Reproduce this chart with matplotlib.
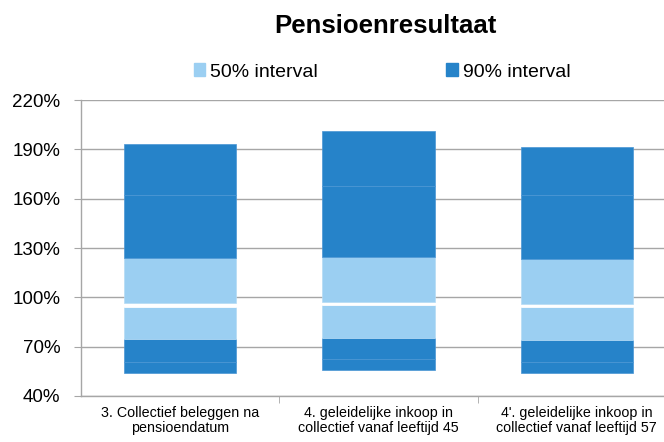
import numpy as np
import matplotlib.pyplot as plt
from matplotlib import font_manager

plt.rcParams['font.family'] = ['Liberation Sans', 'DejaVu Sans']

# narrow font for the category labels, if present
names = {f.name for f in font_manager.fontManager.ttflist}
if 'Liberation Sans Narrow' in names:
    cat_font, cat_size = ['Liberation Sans Narrow', 'DejaVu Sans'], 11.5
else:
    cat_font, cat_size = ['Liberation Sans', 'DejaVu Sans'], 10.3

categories = ["3. Collectief beleggen na\npensioendatum",
              "4. geleidelijke inkoop in\ncollectief vanaf leeftijd 45",
              "4'. geleidelijke inkoop in\ncollectief vanaf leeftijd 57"]

# boundaries of the stacked segments (in %), bottom to top
p_low = [53.7, 55.8, 54.0]
p_10 = [60.4, 62.5, 60.4]
p_25 = [74.4, 75.4, 74.0]
med_lo = [94.3, 95.1, 93.9]
med_hi = [96.3, 96.9, 95.9]
p_75 = [123.7, 124.5, 123.3]
p_90 = [162.0, 167.5, 162.0]
p_high = [193.1, 201.1, 191.2]

levels = [p_low, p_10, p_25, med_lo, med_hi, p_75, p_90, p_high]

dark = '#2683C9'
light = '#9BCFF2'
seg_colors = [dark, dark, light, 'white', light, dark, dark]
seg_edges = ['#4A95D4', '#4A95D4', '#B5DBF5', 'white', '#B5DBF5', '#4A95D4', '#4A95D4']

fig = plt.figure(figsize=(6.64, 4.42), dpi=100)
ax = fig.add_axes([81/664, 1-396/442, 595/664, 296/442])

x = np.arange(len(categories))
for i in range(len(levels) - 1):
    lo = np.array(levels[i])
    hi = np.array(levels[i+1])
    ax.bar(x, hi - lo, bottom=lo, width=0.565, color=seg_colors[i],
           edgecolor=seg_edges[i], linewidth=0.5, zorder=3)

ax.set_xlim(-0.5, 2.5)
ax.set_ylim(40, 220)
ax.set_yticks(np.arange(40, 221, 30))
ax.set_yticklabels([f"{v}%" for v in range(40, 221, 30)], fontsize=13.5)
ax.yaxis.grid(True, color='#A6A6A6', linewidth=1.0, zorder=0)
ax.set_axisbelow(True)

ax.set_xticks(x)
ax.set_xticklabels(categories, fontsize=cat_size, linespacing=1.15, family=cat_font)
ax.set_xticks([0.5, 1.5, 2.5], minor=True)
ax.tick_params(axis='x', which='major', length=0, pad=7)
ax.tick_params(axis='x', which='minor', length=5, color='#A6A6A6', direction='out')
ax.tick_params(axis='y', length=5, color='#A6A6A6', pad=10)

for s in ['top', 'right']:
    ax.spines[s].set_visible(False)
for s in ['left', 'bottom']:
    ax.spines[s].set_color('#A6A6A6')
    ax.spines[s].set_linewidth(1.0)

fig.text(385/664, 1-26/442, "Pensioenresultaat", fontsize=18.5, fontweight='bold',
         ha='center', va='center')

h1 = plt.Rectangle((0, 0), 1, 1, color=light)
h2 = plt.Rectangle((0, 0), 1, 1, color=dark)
fig.legend([h1, h2], ["50% interval", "90% interval"], ncol=2, frameon=False,
           loc='center', bbox_to_anchor=(382/664, 1-72/442), fontsize=14,
           handlelength=0.6, handleheight=0.6, handletextpad=0.25,
           columnspacing=6.6)

fig.savefig('out.png', dpi=100)
